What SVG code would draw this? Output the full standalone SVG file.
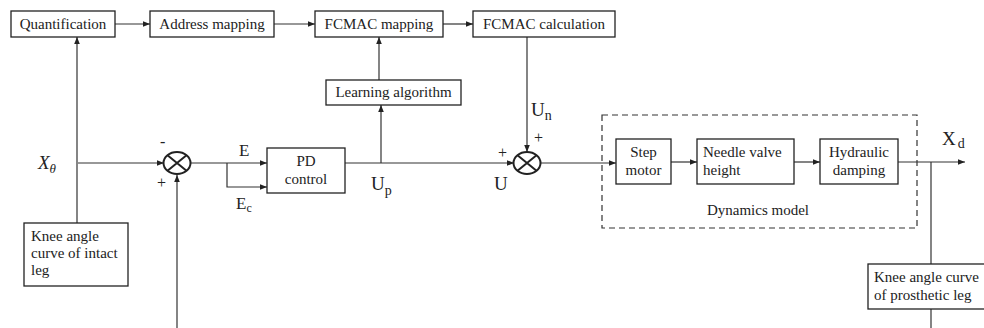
<svg xmlns="http://www.w3.org/2000/svg" width="984" height="328" viewBox="0 0 984 328" font-family="'Liberation Serif', 'DejaVu Serif', serif">
<defs>
<marker id="ah" viewBox="0 0 10 10" refX="10" refY="5" markerWidth="7" markerHeight="7" markerUnits="userSpaceOnUse" orient="auto"><path d="M0,1 L10,5 L0,9 z" fill="#222"/></marker>
<style>
.box{fill:#fff;stroke:#222;stroke-width:1.3}
text{font-family:'Liberation Serif','DejaVu Serif',serif;fill:#222}
.t{font-size:15px}
.c{text-anchor:middle}
.ln{fill:none;stroke:#333;stroke-width:1.2}
.a{marker-end:url(#ah)}
</style>
</defs>
<rect width="984" height="328" fill="#fff"/>
<g id="connectors">
<path class="ln a" d="M115,24 H150"/>
<path class="ln a" d="M274,24 H315"/>
<path class="ln a" d="M443,24 H473"/>
<path class="ln a" d="M379,80 V37"/>
<path class="ln a" d="M77,223 V37"/>
<path class="ln a" d="M78,163 H164"/>
<path class="ln a" d="M177,328 V175"/>
<path class="ln a" d="M191,163 H267"/>
<path class="ln a" d="M227,163 V187 H267"/>
<path class="ln a" d="M345,163 H514"/>
<path class="ln a" d="M381,163 V105"/>
<path class="ln a" d="M527,37 V152"/>
<path class="ln a" d="M541,163 H616"/>
<path class="ln a" d="M671,162 H697"/>
<path class="ln a" d="M794,162 H820"/>
<path class="ln a" d="M898,162 H965"/>
<path class="ln" d="M931,162 V264"/>
<path class="ln" d="M931,309 V328"/>
</g>
<g id="quantification"><rect class="box" x="11" y="11" width="104" height="26"/><text class="t c" x="63" y="29">Quantification</text></g>
<g id="address-mapping"><rect class="box" x="150" y="11" width="124" height="26"/><text class="t c" x="212" y="29">Address mapping</text></g>
<g id="fcmac-mapping"><rect class="box" x="315" y="11" width="128" height="26"/><text class="t c" x="379" y="29">FCMAC mapping</text></g>
<g id="fcmac-calculation"><rect class="box" x="473" y="11" width="142" height="26"/><text class="t c" x="544" y="29">FCMAC calculation</text></g>
<g id="learning-algorithm"><rect class="box" x="326" y="80" width="135" height="25"/><text class="t c" x="393.5" y="97">Learning algorithm</text></g>
<g id="knee-intact"><rect class="box" x="24" y="223" width="104" height="63"/><text class="t" x="31" y="241">Knee angle</text><text class="t" x="31" y="258">curve of intact</text><text class="t" x="31" y="275">leg</text></g>
<g id="sum1"><ellipse cx="177" cy="163" rx="13.5" ry="11" fill="#fff" stroke="#222" stroke-width="2"/><path d="M167.5,155.2 L186.5,170.8 M186.5,155.2 L167.5,170.8" stroke="#222" stroke-width="2"/></g>
<g id="pd-control"><rect class="box" x="267" y="148" width="78" height="45"/><text class="t c" x="306" y="166">PD</text><text class="t c" x="306" y="184">control</text></g>
<g id="sum2"><ellipse cx="527" cy="163" rx="13.5" ry="11" fill="#fff" stroke="#222" stroke-width="2"/><path d="M517.5,155.2 L536.5,170.8 M536.5,155.2 L517.5,170.8" stroke="#222" stroke-width="2"/></g>
<g id="dynamics-model"><rect x="602" y="115" width="315" height="113" fill="none" stroke="#333" stroke-width="1.2" stroke-dasharray="6,4"/><text class="t c" x="758" y="215">Dynamics model</text></g>
<g id="step-motor"><rect class="box" x="616" y="139" width="55" height="45"/><text class="t c" x="643.5" y="157">Step</text><text class="t c" x="643.5" y="175">motor</text></g>
<g id="needle-valve"><rect class="box" x="697" y="139" width="97" height="45"/><text class="t" x="703" y="157">Needle valve</text><text class="t" x="703" y="175">height</text></g>
<g id="hydraulic-damping"><rect class="box" x="820" y="139" width="78" height="45"/><text class="t c" x="859" y="157">Hydraulic</text><text class="t c" x="859" y="175">damping</text></g>
<g id="knee-prosthetic"><rect class="box" x="868" y="264" width="120" height="45"/><text class="t" x="874" y="282">Knee angle curve</text><text class="t" x="874" y="300">of prosthetic leg</text></g>
<g id="labels">
<text x="38" y="169" font-size="19" font-style="italic">X<tspan font-size="13" dy="4">θ</tspan></text>
<text x="160" y="147" font-size="16">-</text>
<text x="157" y="188" font-size="16">+</text>
<text x="239" y="156" font-size="17">E</text>
<text x="236" y="209" font-size="17">E<tspan font-size="12" dy="3">c</tspan></text>
<text x="371" y="190" font-size="19">U<tspan font-size="14" dy="5">p</tspan></text>
<text x="494" y="190" font-size="19">U</text>
<text x="498" y="158" font-size="16">+</text>
<text x="534" y="143" font-size="16">+</text>
<text x="531" y="116" font-size="19">U<tspan font-size="14" dy="4">n</tspan></text>
<text x="942" y="145" font-size="19">X<tspan font-size="14" dx="2" dy="3">d</tspan></text>
</g>
</svg>
